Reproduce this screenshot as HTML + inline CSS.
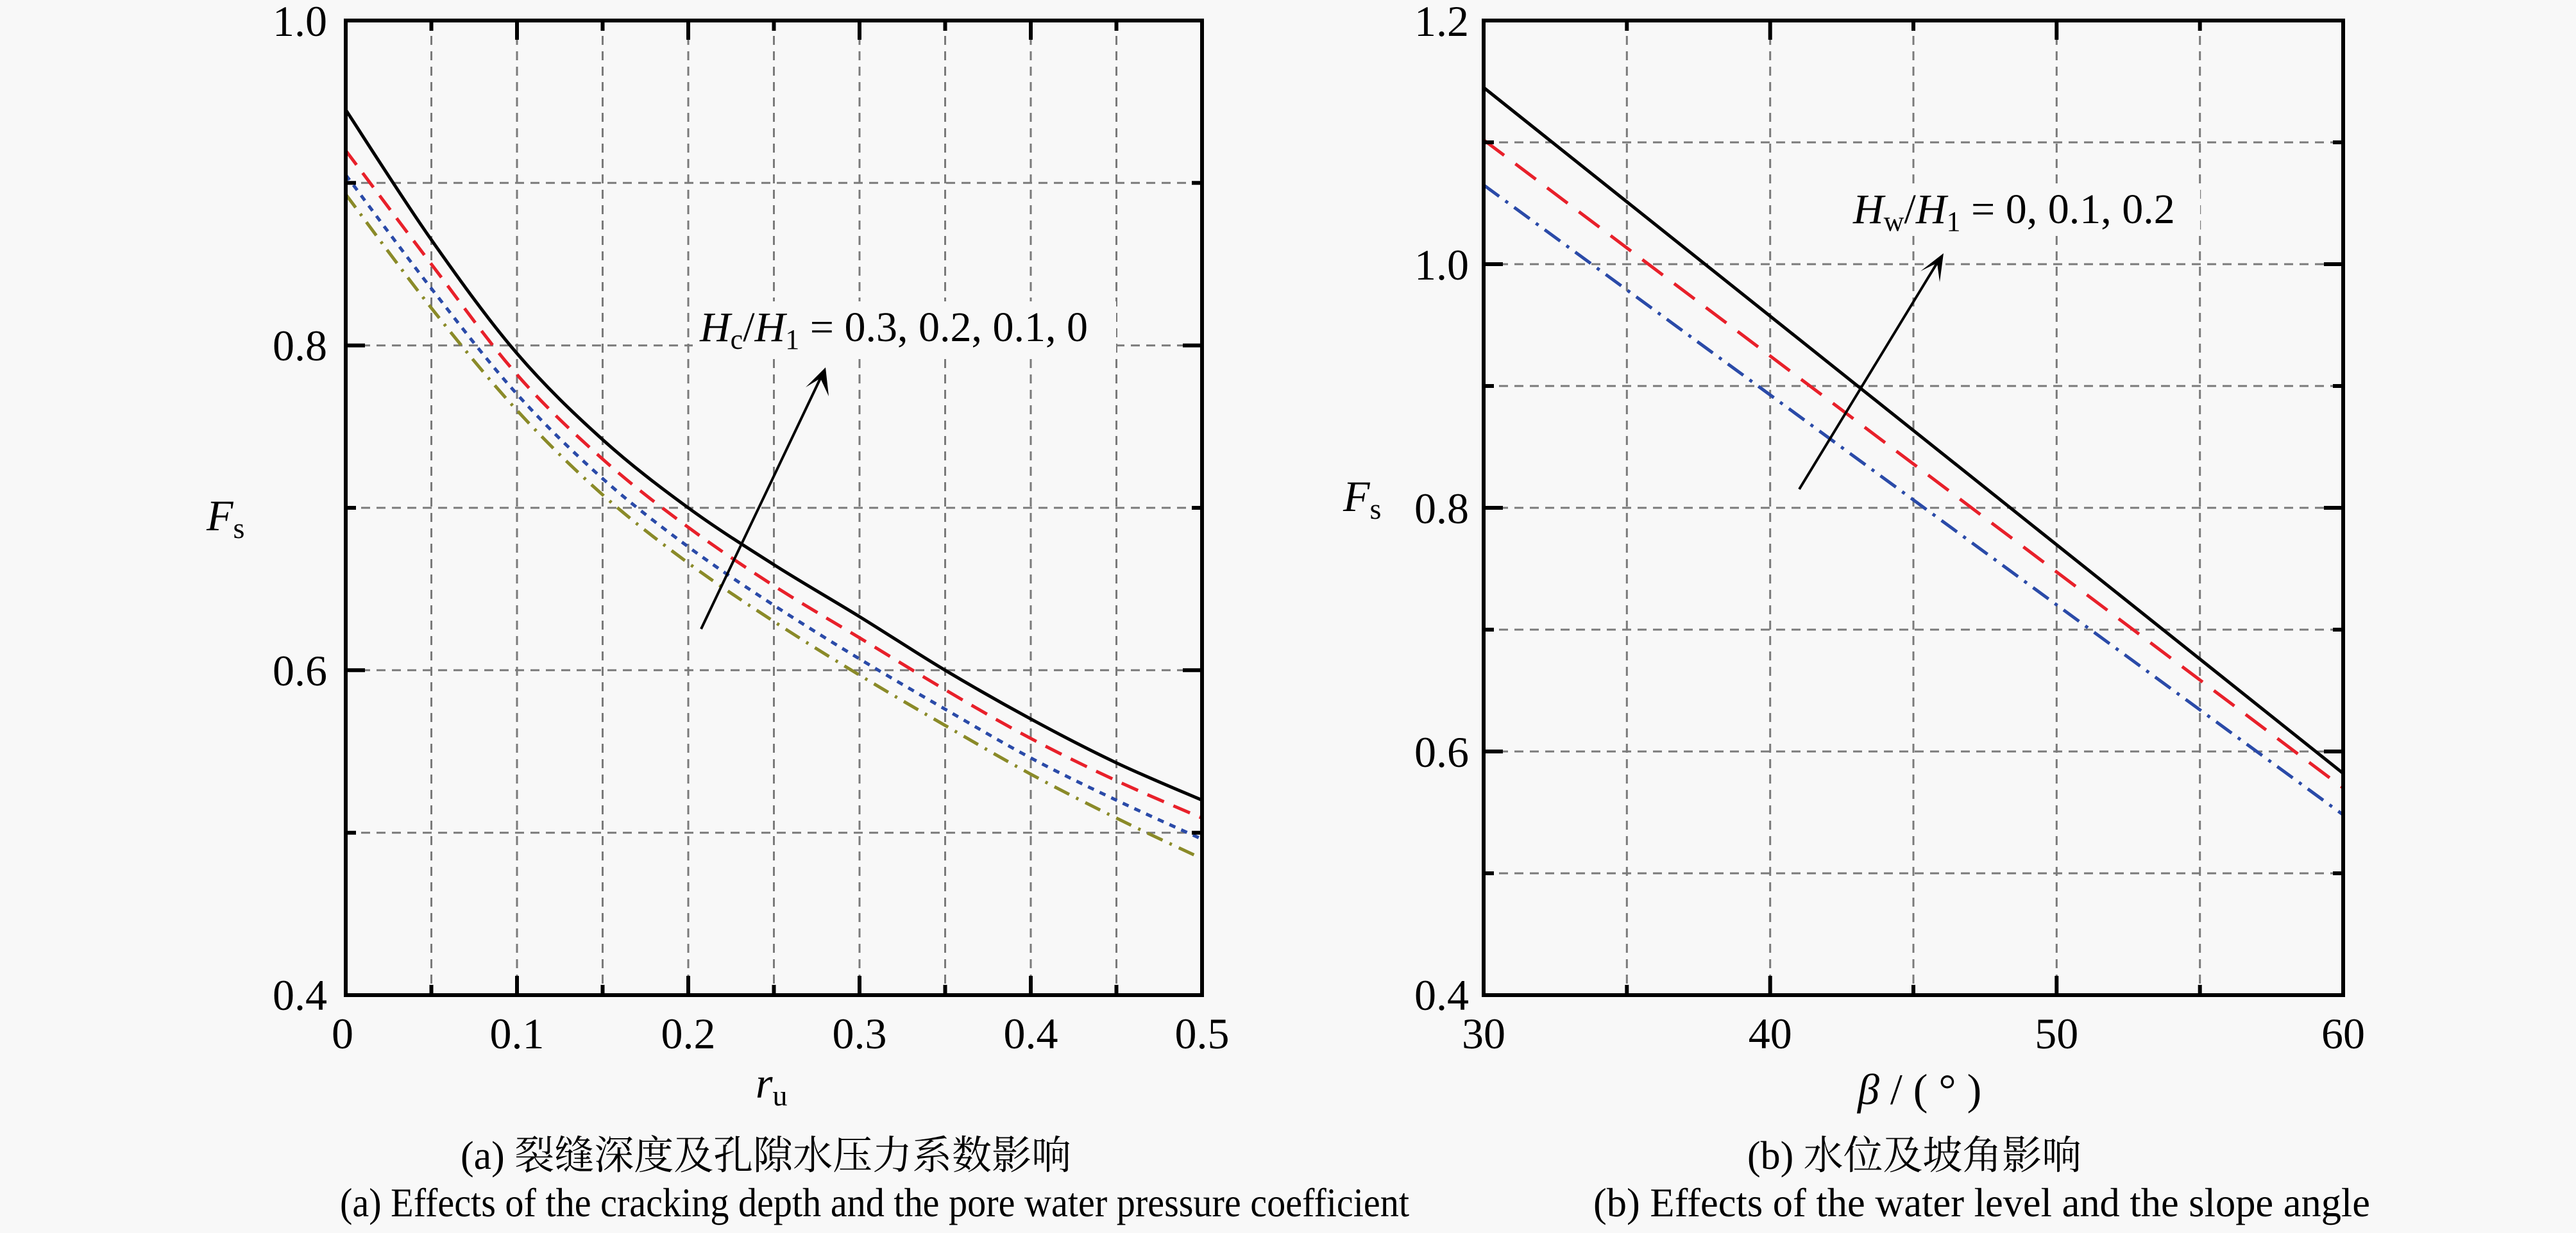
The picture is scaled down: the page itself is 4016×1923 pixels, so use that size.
<!DOCTYPE html>
<html><head><meta charset="utf-8"><style>
html,body{margin:0;padding:0;background:#f8f8f8;}
svg{display:block;}
text{font-family:"Liberation Serif","Noto Serif CJK SC",serif;fill:#000;}
</style></head><body>
<svg width="4016" height="1923" viewBox="0 0 4016 1923" xmlns="http://www.w3.org/2000/svg">
<rect width="4016" height="1923" fill="#f8f8f8"/>
<g stroke="#7a7a7a" stroke-width="3" stroke-dasharray="14,10" fill="none">
<path d="M672.5 32V1552M806 32V1552M939.5 32V1552M1073 32V1552M1206.5 32V1552M1340 32V1552M1473.5 32V1552M1607 32V1552M1740.5 32V1552"/>
<path d="M539 285.3H1874M539 538.7H1874M539 792H1874M539 1045.3H1874M539 1298.7H1874"/>
<path d="M2536.3 32V1552M2759.7 32V1552M2983 32V1552M3206.3 32V1552M3429.7 32V1552"/>
<path d="M2313 222H3653M2313 412H3653M2313 602H3653M2313 792H3653M2313 982H3653M2313 1172H3653M2313 1362H3653"/>
</g>
<rect x="1080" y="470" width="660" height="80" fill="#f8f8f8"/>
<rect x="2880" y="290" width="550" height="75" fill="#f8f8f8"/>
<g fill="none" stroke-width="5" stroke-linejoin="round">
<path id="c4" stroke="#8a8a28" stroke-dasharray="26,12,4,12" data-p="539,303 672.5,480.4 806,640 939.5,771.7 1073,878.1 1206.5,969.3 1340,1052.9 1473.5,1131.4 1607,1207.4 1740.5,1275.9 1874,1339.2" d="M539,303 L672.5,480.4 806,640 939.5,771.7 1073,878.1 1206.5,969.3 1340,1052.9 1473.5,1131.4 1607,1207.4 1740.5,1275.9 1874,1339.2"/>
<path id="c3" stroke="#2a4aa8" stroke-dasharray="10,10" data-p="539,272.7 672.5,450 806,614.7 939.5,746.4 1073,852.8 1206.5,944 1340,1027.6 1473.5,1106.1 1607,1182.1 1740.5,1248 1874,1308.8" d="M539,272.7 L672.5,450 806,614.7 939.5,746.4 1073,852.8 1206.5,944 1340,1027.6 1473.5,1106.1 1607,1182.1 1740.5,1248 1874,1308.8"/>
<path id="c2" stroke="#e8202a" stroke-dasharray="28,16" data-p="539,234.7 672.5,412 806,584.3 939.5,716 1073,822.4 1206.5,913.6 1340,994.7 1473.5,1075.7 1607,1151.7 1740.5,1217.6 1874,1275.9" d="M539,234.7 L672.5,412 806,584.3 939.5,716 1073,822.4 1206.5,913.6 1340,994.7 1473.5,1075.7 1607,1151.7 1740.5,1217.6 1874,1275.9"/>
<path id="c1" stroke="#000" data-p="539,171.3 672.5,374 806,551.3 939.5,685.6 1073,792 1206.5,880.7 1340,961.7 1473.5,1045.3 1607,1121.3 1740.5,1189.7 1874,1248" d="M539,171.3 L672.5,374 806,551.3 939.5,685.6 1073,792 1206.5,880.7 1340,961.7 1473.5,1045.3 1607,1121.3 1740.5,1189.7 1874,1248"/>
<line x1="2313" y1="288.5" x2="3653" y2="1270.8" stroke="#2a4aa8" stroke-dasharray="30,12,5,12"/>
<line x1="2313" y1="218.2" x2="3653" y2="1229" stroke="#e8202a" stroke-dasharray="40,22"/>
<line x1="2313" y1="136.5" x2="3653" y2="1206.2" stroke="#000"/>
</g>
<rect x="539" y="32" width="1335" height="1520" fill="none" stroke="#000" stroke-width="6"/>
<rect x="2313" y="32" width="1340" height="1520" fill="none" stroke="#000" stroke-width="6"/>
<g stroke="#000" stroke-width="6">
<path d="M806 1552v-30M1073 1552v-30M1340 1552v-30M1607 1552v-30M806 32v30M1073 32v30M1340 32v30M1607 32v30"/>
<path d="M672.5 1552v-16M939.5 1552v-16M1206.5 1552v-16M1473.5 1552v-16M1740.5 1552v-16M672.5 32v16M939.5 32v16M1206.5 32v16M1473.5 32v16M1740.5 32v16"/>
<path d="M539 538.7h30M539 1045.3h30M1874 538.7h-30M1874 1045.3h-30M539 285.3h16M539 792h16M539 1298.7h16M1874 285.3h-16M1874 792h-16M1874 1298.7h-16"/>
<path d="M2759.7 1552v-30M3206.3 1552v-30M2759.7 32v30M3206.3 32v30M2536.3 1552v-16M2983 1552v-16M3429.7 1552v-16M2536.3 32v16M2983 32v16M3429.7 32v16"/>
<path d="M2313 412h30M2313 792h30M2313 1172h30M3653 412h-30M3653 792h-30M3653 1172h-30M2313 222h16M2313 602h16M2313 982h16M2313 1362h16M3653 222h-16M3653 602h-16M3653 982h-16M3653 1362h-16"/>
</g>
<g stroke="#000" stroke-width="4" fill="none">
<line x1="1093" y1="981" x2="1279" y2="590"/>
<line x1="2805" y1="763" x2="3020" y2="410"/>
</g>
<polygon points="1287,573 1292,618 1279,590 1256,604" fill="#000"/>
<polygon points="3030,395 3024,440 3020,410 2994,423" fill="#000"/>
<g font-size="68" text-anchor="end">
<text x="510" y="56">1.0</text><text x="510" y="562">0.8</text><text x="510" y="1069">0.6</text><text x="510" y="1575">0.4</text>
<text x="2290" y="56">1.2</text><text x="2290" y="436">1.0</text><text x="2290" y="816">0.8</text><text x="2290" y="1196">0.6</text><text x="2290" y="1575">0.4</text>
</g>
<g font-size="68" text-anchor="middle">
<text x="534" y="1635">0</text><text x="806" y="1635">0.1</text><text x="1073" y="1635">0.2</text><text x="1340" y="1635">0.3</text><text x="1607" y="1635">0.4</text><text x="1874" y="1635">0.5</text>
<text x="2313" y="1635">30</text><text x="2759.7" y="1635">40</text><text x="3206.3" y="1635">50</text><text x="3653" y="1635">60</text>
</g>
<text x="322" y="827" font-size="68" font-style="italic">F<tspan font-style="normal" font-size="46" dy="12">s</tspan></text>
<text x="2094" y="797" font-size="68" font-style="italic">F<tspan font-style="normal" font-size="46" dy="12">s</tspan></text>
<text x="1178" y="1712" font-size="68" font-style="italic">r<tspan font-style="normal" font-size="46" dy="12">u</tspan></text>
<text x="2896" y="1722" font-size="68"><tspan font-style="italic">β</tspan> / ( ° )</text>
<text x="1091" y="532" font-size="66"><tspan font-style="italic">H</tspan><tspan font-size="44" dy="12">c</tspan><tspan dy="-12">/</tspan><tspan font-style="italic">H</tspan><tspan font-size="44" dy="12">1</tspan><tspan dy="-12"> = 0.3, 0.2, 0.1, 0</tspan></text>
<text x="2889" y="348" font-size="66"><tspan font-style="italic">H</tspan><tspan font-size="44" dy="12">w</tspan><tspan dy="-12">/</tspan><tspan font-style="italic">H</tspan><tspan font-size="44" dy="12">1</tspan><tspan dy="-12"> =  0, 0.1, 0.2</tspan></text>
<text x="718" y="1823" font-size="62" textLength="952" lengthAdjust="spacingAndGlyphs">(a) 裂缝深度及孔隙水压力系数影响</text>
<text x="530" y="1897" font-size="64" textLength="1667" lengthAdjust="spacingAndGlyphs">(a) Effects of the cracking depth and the pore water pressure coefficient</text>
<text x="2724" y="1823" font-size="62" textLength="521" lengthAdjust="spacingAndGlyphs">(b) 水位及坡角影响</text>
<text x="2484" y="1897" font-size="64" textLength="1211" lengthAdjust="spacingAndGlyphs">(b) Effects of the water level and the slope angle</text>
</svg>
<script>
["c1","c2","c3","c4"].forEach(function(id){
  var el=document.getElementById(id);
  var p=el.getAttribute("data-p").split(" ").map(function(s){return s.split(",").map(Number);});
  var d="M"+p[0][0]+","+p[0][1];
  for(var i=0;i<p.length-1;i++){
    var p0=p[i>0?i-1:i],p1=p[i],p2=p[i+1],p3=p[i+2<p.length?i+2:i+1];
    var c1x=p1[0]+(p2[0]-p0[0])/6,c1y=p1[1]+(p2[1]-p0[1])/6;
    var c2x=p2[0]-(p3[0]-p1[0])/6,c2y=p2[1]-(p3[1]-p1[1])/6;
    d+=" C"+c1x.toFixed(1)+","+c1y.toFixed(1)+" "+c2x.toFixed(1)+","+c2y.toFixed(1)+" "+p2[0]+","+p2[1];
  }
  el.setAttribute("d",d);
});
</script>
</body></html>
